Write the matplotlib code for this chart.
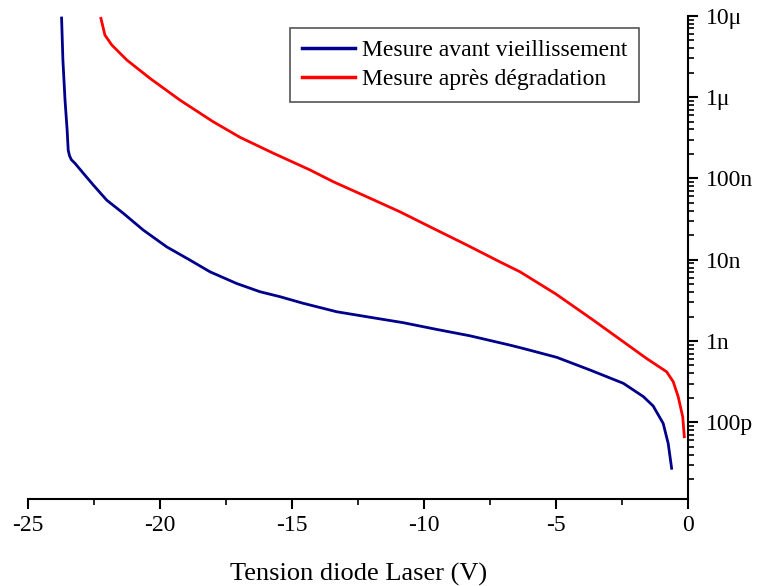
import matplotlib
matplotlib.use("Agg")
import matplotlib.pyplot as plt
from matplotlib.ticker import FixedLocator, LogLocator, NullFormatter

plt.rcParams["font.family"] = ["Liberation Serif", "DejaVu Serif"]

# Mesure avant vieillissement (tension V, courant A)
v_avant = [-23.73, -23.68, -23.60, -23.52, -23.48, -23.43, -23.36, -23.22, -22.91,
           -22.53, -22.02, -21.39, -20.64, -19.75, -18.87, -18.11, -17.10, -16.22,
           -15.46, -14.58, -13.31, -12.05, -10.79, -9.53, -8.27, -6.75, -6.25, -4.98,
           -3.72, -2.46, -1.70, -1.33, -0.95, -0.76, -0.63]
i_avant = [9.4e-6, 2.86e-6, 9.2e-7, 3.94e-7, 2.23e-7, 1.90e-7, 1.70e-7, 1.53e-7, 1.16e-7,
           8.3e-8, 5.4e-8, 3.72e-8, 2.32e-8, 1.44e-8, 9.9e-9, 7.1e-9, 5.1e-9, 4.04e-9,
           3.51e-9, 2.91e-9, 2.29e-9, 1.96e-9, 1.68e-9, 1.39e-9, 1.16e-9, 8.9e-10,
           8.1e-10, 6.3e-10, 4.4e-10, 3.02e-10, 2.07e-10, 1.59e-10, 9.7e-11, 5.5e-11,
           2.72e-11]

# Mesure après dégradation
v_apres = [-22.24, -22.09, -21.83, -21.26, -20.38, -19.25, -17.99, -16.97, -15.71,
           -14.32, -13.44, -12.18, -10.92, -9.66, -8.39, -7.13, -6.37, -5.01, -3.60,
           -2.46, -1.58, -0.82, -0.57, -0.38, -0.21, -0.15]
i_apres = [9.3e-6, 5.8e-6, 4.38e-6, 2.86e-6, 1.70e-6, 9.2e-7, 4.98e-7, 3.20e-7, 2.04e-7,
           1.27e-7, 9.1e-8, 5.96e-8, 3.89e-8, 2.43e-8, 1.52e-8, 9.4e-9, 7.1e-9, 3.78e-9,
           1.81e-9, 9.8e-10, 6.1e-10, 4.19e-10, 3.16e-10, 2.06e-10, 1.17e-10, 6.65e-11]

y_ticks = [1e-10, 1e-9, 1e-8, 1e-7, 1e-6, 1e-5]
y_labels = ["100p", "1n", "10n", "100n", "1\u03bc", "10\u03bc"]
x_ticks = [-25, -20, -15, -10, -5, 0]

fig = plt.figure(figsize=(7.58, 5.86), dpi=100)
ax = fig.add_axes([0.037, 0.149, 0.871, 0.824])

ax.plot(v_avant, i_avant, color="#00008b", lw=2, label="Mesure avant vieillissement")
ax.plot(v_apres, i_apres, color="#ff0000", lw=2, label="Mesure après dégradation")

ax.set_yscale("log")
ax.set_xlim(-25, 0)
ax.set_ylim(1.15e-11, 1e-5)

ax.spines["top"].set_visible(False)
ax.spines["left"].set_visible(False)
for s in ["bottom", "right"]:
    ax.spines[s].set_linewidth(1.5)

ax.yaxis.tick_right()
ax.yaxis.set_major_locator(FixedLocator(y_ticks))
ax.set_yticklabels(y_labels)
ax.yaxis.set_minor_locator(LogLocator(base=10, subs=range(2, 10), numticks=20))
ax.yaxis.set_minor_formatter(NullFormatter())

ax.set_xticks(x_ticks)
ax.set_xticklabels([str(t) for t in x_ticks])
ax.set_xticks([-22.5, -17.5, -12.5, -7.5, -2.5], minor=True)

ax.tick_params(which="major", direction="out", length=7, width=1.5, labelsize=17)
ax.tick_params(which="minor", direction="out", length=4, width=1.2)
ax.tick_params(axis="x", pad=5)
ax.tick_params(axis="y", pad=6)

ax.set_xlabel("Tension diode Laser (V)", fontsize=19, labelpad=19)

leg = ax.legend(loc="upper right", bbox_to_anchor=(0.843, 0.952),
                bbox_transform=fig.transFigure, fontsize=17, fancybox=False,
                framealpha=1, edgecolor="#555555", handlelength=2.25,
                borderpad=0.5, labelspacing=0.3, handletextpad=0.3,
                borderaxespad=0)
leg.get_frame().set_linewidth(1.2)
for line in leg.get_lines():
    line.set_linewidth(2.5)

fig.savefig("out.png", dpi=100)
